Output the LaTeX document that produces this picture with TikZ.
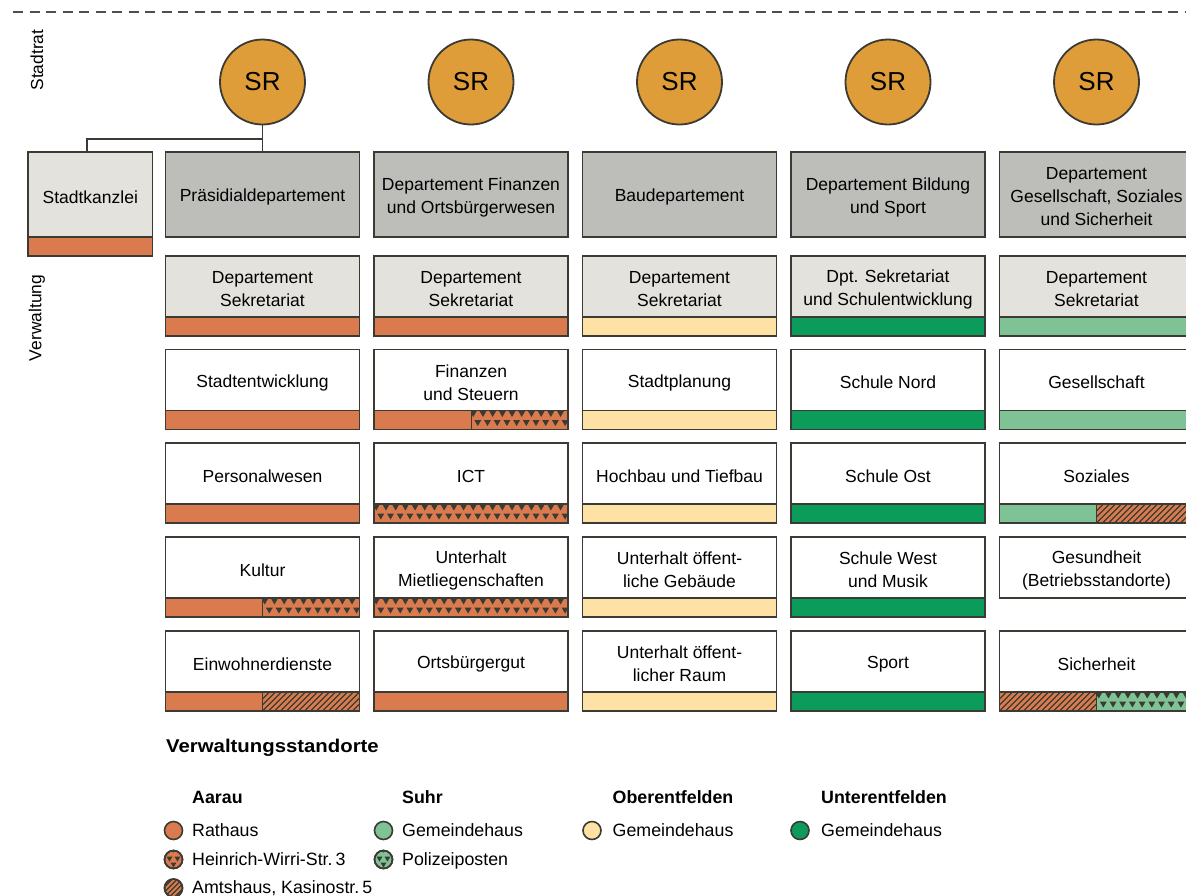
\documentclass[tikz,border=0pt]{standalone}
\usepackage{fontspec}
\setmainfont{Liberation Sans}
\definecolor{cline}{HTML}{3B3A33}
\definecolor{hgray}{HTML}{BDBDBA}
\definecolor{lgray}{HTML}{E3E2DC}
\definecolor{corange}{HTML}{D97B4E}
\definecolor{srorange}{HTML}{DF9D39}
\definecolor{cyellow}{HTML}{FDE1A5}
\definecolor{dgreen}{HTML}{0B9B5B}
\definecolor{lgreen}{HTML}{7FC295}
\newcommand\fs{\fontsize{17.5}{23}\selectfont}
\newcommand\lfs{\fontsize{17.8}{20}\selectfont}
\tikzset{
  bl/.style={draw=cline, line width=1.8},
  hdr/.style={draw=cline, line width=1.8, fill=hgray, minimum width=194, minimum height=85, inner sep=0},
  cell/.style={draw=cline, line width=1.8, minimum width=194, minimum height=61, inner sep=0},
  btxt/.style={align=center, inner sep=0, font=\fs},
  srnode/.style={circle, draw=cline, line width=1.8, fill=srorange, minimum size=85, inner sep=0, font=\fontsize{26}{30}\selectfont},
  conn/.style={draw=cline, line width=1.8},
  legc/.style={circle, draw=cline, line width=1.6, minimum size=18, inner sep=0},
  lt/.style={anchor=base west, inner sep=0, font=\lfs},
  lh/.style={anchor=base west, inner sep=0, font=\lfs\bfseries},
  side/.style={rotate=90, inner sep=0, font=\fontsize{17.4}{20}\selectfont},
}
% bar parts: #1 x1, #2 x2, #3 y top
\newcommand\pO[3]{\fill[corange] (#1,#3) rectangle (#2,#3+19);}
\newcommand\pY[3]{\fill[cyellow] (#1,#3) rectangle (#2,#3+19);}
\newcommand\pG[3]{\fill[dgreen] (#1,#3) rectangle (#2,#3+19);}
\newcommand\pL[3]{\fill[lgreen] (#1,#3) rectangle (#2,#3+19);}
\newcommand\ptris[4]{%
  \fill[#4] (#1,#3) rectangle (#2,#3+19);
  \begin{scope}
    \clip (#1,#3) rectangle (#2,#3+19);
    \foreach \k in {0,...,21}{
      \fill[cline] ({#1+\k*9.7-1.5},#3) -- ++(7.5,0) -- ++(-3.75,6.5) -- cycle;
      \fill[cline] ({#1+\k*9.7+3.3},#3+9.5) -- ++(7,0) -- ++(-3.5,6) -- cycle;
    }
  \end{scope}}
\newcommand\pOT[3]{\ptris{#1}{#2}{#3}{corange}}
\newcommand\pLT[3]{\ptris{#1}{#2}{#3}{lgreen}}
\newcommand\pOH[3]{%
  \fill[corange] (#1,#3) rectangle (#2,#3+19);
  \begin{scope}
    \clip (#1,#3) rectangle (#2,#3+19);
    \foreach \k in {-4,...,36}{
      \draw[cline, line width=1.1] ({#1+\k*6},#3+19) -- ++(19,-19);
    }
  \end{scope}}
% bars: #1 x left, #2 y top of bar
\newcommand\barfull[3]{#3{#1}{#1+194}{#2}\draw[bl] (#1,#2) rectangle (#1+194,#2+19);}
\newcommand\barsplit[4]{#3{#1}{#1+97}{#2}#4{#1+97}{#1+194}{#2}%
  \draw[bl] (#1,#2) rectangle (#1+194,#2+19);
  \draw[cline, line width=1] (#1+97,#2) -- (#1+97,#2+19);}
% cell: #1 name, #2 x left, #3 top, #4 fill, #5 text
\newcommand\cellbox[5]{\node[cell, fill=#4] (#1) at (#2+97,#3+30.5) {};
  \node[btxt] (#1t) at ([yshift=-2.5pt]#1.center) {#5};}
% header: #1 name, #2 center x, #3 text
\newcommand\hdrbox[3]{\node[hdr] (#1) at (#2,194.5) {};
  \node[btxt] (#1t) at ([yshift=-2.5pt]#1.center) {#3};}
\begin{document}
\begin{tikzpicture}[x=1pt,y=-1pt]
\useasboundingbox (0,0) rectangle (1186,895);
\clip (0,0) rectangle (1186,895);
\fill[white] (0,0) rectangle (1186,895);
% top dashed line
\draw[cline!90, line width=1.6, dash pattern=on 10 off 6.5] (13,12) -- (1186,12);
% side labels
\node[side] (lstadtrat) at (37,60) {Stadtrat};
\node[side] (lverw) at (37,318) {Verwaltung};
% SR circles
\node[srnode] (sr1) at (262.5,82) {SR};
\node[srnode] (sr2) at (471,82) {SR};
\node[srnode] (sr3) at (679.5,82) {SR};
\node[srnode] (sr4) at (888,82) {SR};
\node[srnode] (sr5) at (1096.5,82) {SR};
% Stadtkanzlei
\fill[corange] (28,237) rectangle (152.5,256);
\draw[bl] (28,237) rectangle (152.5,256);
\node[hdr, fill=lgray, minimum width=124.5] (kz) at (90.25,194.5) {};
\node[btxt] (kzt) at ([yshift=-2.5pt]kz.center) {Stadtkanzlei};
% headers
\hdrbox{h1}{262.5}{Präsidialdepartement}
\hdrbox{h2}{471}{Departement Finanzen\\und Ortsbürgerwesen}
\hdrbox{h3}{679.5}{Baudepartement}
\hdrbox{h4}{888}{Departement Bildung\\und Sport}
\hdrbox{h5}{1096.5}{Departement\\Gesellschaft, Soziales\\und Sicherheit}
% connectors
\draw[conn] (sr1.south) -- (h1.north);
\draw[conn] (sr1.south) -- ++(0,13.5) -| ([xshift=-3pt]kz.north);
% column 1
\cellbox{c11}{165.5}{256}{lgray}{Departement\\Sekretariat}
\barfull{165.5}{317}{\pO}
\cellbox{c12}{165.5}{349.5}{white}{Stadtentwicklung}
\barfull{165.5}{410.5}{\pO}
\cellbox{c13}{165.5}{443}{white}{Personalwesen}
\barfull{165.5}{504}{\pO}
\cellbox{c14}{165.5}{537}{white}{Kultur}
\barsplit{165.5}{598}{\pO}{\pOT}
\cellbox{c15}{165.5}{631}{white}{Einwohnerdienste}
\barsplit{165.5}{692}{\pO}{\pOH}
% column 2
\cellbox{c21}{374}{256}{lgray}{Departement\\Sekretariat}
\barfull{374}{317}{\pO}
\cellbox{c22}{374}{349.5}{white}{Finanzen\\und Steuern}
\barsplit{374}{410.5}{\pO}{\pOT}
\cellbox{c23}{374}{443}{white}{ICT}
\barfull{374}{504}{\pOT}
\cellbox{c24}{374}{537}{white}{Unterhalt\\Mietliegenschaften}
\barfull{374}{598}{\pOT}
\cellbox{c25}{374}{631}{white}{Ortsbürgergut}
\barfull{374}{692}{\pO}
% column 3
\cellbox{c31}{582.5}{256}{lgray}{Departement\\Sekretariat}
\barfull{582.5}{317}{\pY}
\cellbox{c32}{582.5}{349.5}{white}{Stadtplanung}
\barfull{582.5}{410.5}{\pY}
\cellbox{c33}{582.5}{443}{white}{Hochbau und Tiefbau}
\barfull{582.5}{504}{\pY}
\cellbox{c34}{582.5}{537}{white}{Unterhalt öffent-\\liche Gebäude}
\barfull{582.5}{598}{\pY}
\cellbox{c35}{582.5}{631}{white}{Unterhalt öffent-\\licher Raum}
\barfull{582.5}{692}{\pY}
% column 4
\cellbox{c41}{791}{256}{lgray}{Dpt. Sekretariat\\und Schulentwicklung}
\barfull{791}{317}{\pG}
\cellbox{c42}{791}{349.5}{white}{Schule Nord}
\barfull{791}{410.5}{\pG}
\cellbox{c43}{791}{443}{white}{Schule Ost}
\barfull{791}{504}{\pG}
\cellbox{c44}{791}{537}{white}{Schule West\\und Musik}
\barfull{791}{598}{\pG}
\cellbox{c45}{791}{631}{white}{Sport}
\barfull{791}{692}{\pG}
% column 5
\cellbox{c51}{999.5}{256}{lgray}{Departement\\Sekretariat}
\barfull{999.5}{317}{\pL}
\cellbox{c52}{999.5}{349.5}{white}{Gesellschaft}
\barfull{999.5}{410.5}{\pL}
\cellbox{c53}{999.5}{443}{white}{Soziales}
\barsplit{999.5}{504}{\pL}{\pOH}
\cellbox{c54}{999.5}{537}{white}{Gesundheit\\(Betriebsstandorte)}
\cellbox{c55}{999.5}{631}{white}{Sicherheit}
\barsplit{999.5}{692}{\pOH}{\pLT}
% legend
\node[anchor=base west, inner sep=0, font=\fontsize{18.5}{20}\selectfont\bfseries] (legtitle) at (166,752) {\scalebox{1.1}[1]{Verwaltungsstandorte}};
\node[lh] (hA) at (192,803) {Aarau};
\node[lh] (hS) at (402,803) {Suhr};
\node[lh] (hO) at (612.5,803) {Oberentfelden};
\node[lh] (hU) at (821,803) {Unterentfelden};
% Aarau
\node[legc, fill=corange] (i1) at (173.5,830.5) {};
\node[lt] (t1) at (192,836) {Rathaus};
\node[legc, fill=corange] (i2) at (173.5,859.5) {};
\begin{scope}
  \clip (i2.center) circle (8.2);
  \fill[cline] ([shift={(-7,-3)}]i2.center) -- ++(6,0) -- ++(-3,5) -- cycle;
  \fill[cline] ([shift={(1,-3)}]i2.center) -- ++(6,0) -- ++(-3,5) -- cycle;
  \fill[cline] ([shift={(-3,3)}]i2.center) -- ++(6,0) -- ++(-3,5) -- cycle;
  \fill[cline] ([shift={(-4,-10)}]i2.center) -- ++(8,0) -- ++(-4,3) -- cycle;
\end{scope}
\draw[cline, line width=1.6] (i2) circle (9);
\node[lt] (t2) at (192,865) {Heinrich-Wirri-Str.\,3};
\node[legc, fill=corange] (i3) at (173.5,888) {};
\begin{scope}
  \clip (i3.center) circle (8.2);
  \foreach \k in {-3,...,3}{
    \draw[cline, line width=1.1] ([shift={(\k*5-10,10)}]i3.center) -- ++(20,-20);
  }
\end{scope}
\draw[cline, line width=1.6] (i3) circle (9);
\node[lt] (t3) at (192,893.5) {Amtshaus, Kasinostr.\,5};
% Suhr
\node[legc, fill=lgreen] (i4) at (383.5,830.5) {};
\node[lt] (t4) at (402,836) {Gemeindehaus};
\node[legc, fill=lgreen] (i5) at (383.5,859.5) {};
\begin{scope}
  \clip (i5.center) circle (8.2);
  \fill[cline] ([shift={(-7,-3)}]i5.center) -- ++(6,0) -- ++(-3,5) -- cycle;
  \fill[cline] ([shift={(1,-3)}]i5.center) -- ++(6,0) -- ++(-3,5) -- cycle;
  \fill[cline] ([shift={(-3,3)}]i5.center) -- ++(6,0) -- ++(-3,5) -- cycle;
  \fill[cline] ([shift={(-4,-10)}]i5.center) -- ++(8,0) -- ++(-4,3) -- cycle;
\end{scope}
\draw[cline, line width=1.6] (i5) circle (9);
\node[lt] (t5) at (402,865) {Polizeiposten};
% Oberentfelden
\node[legc, fill=cyellow] (i6) at (592,830.5) {};
\node[lt] (t6) at (612.5,836) {Gemeindehaus};
% Unterentfelden
\node[legc, fill=dgreen] (i7) at (800,830.5) {};
\node[lt] (t7) at (821,836) {Gemeindehaus};
\end{tikzpicture}
\end{document}
